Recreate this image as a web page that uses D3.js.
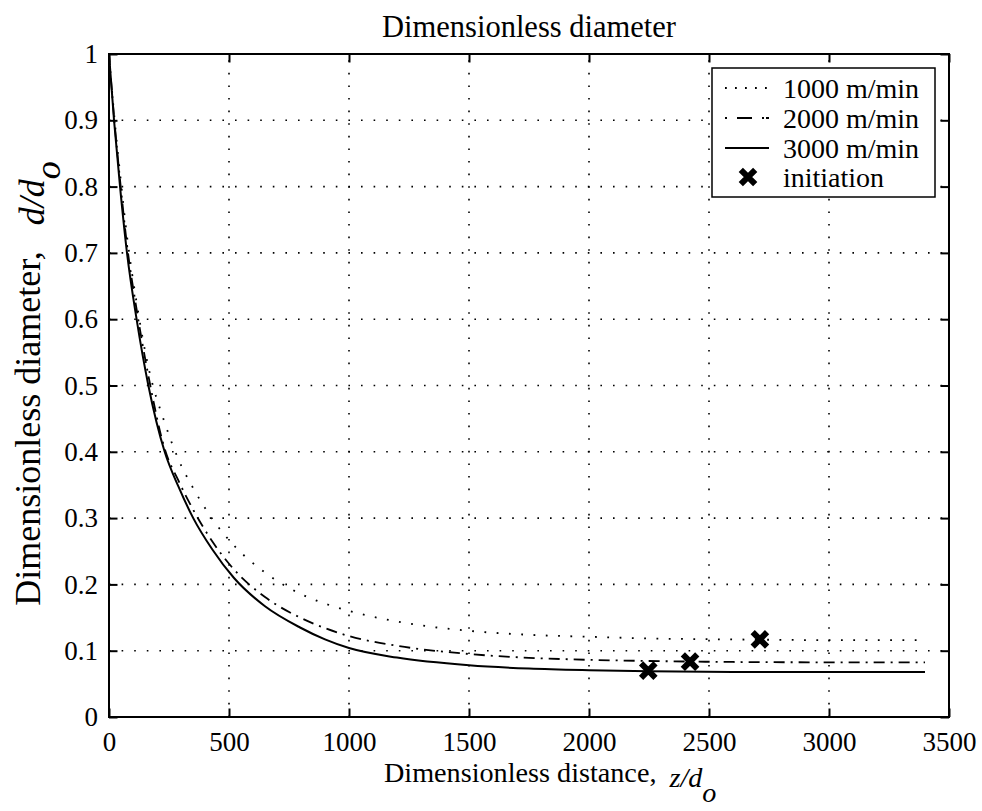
<!DOCTYPE html>
<html><head><meta charset="utf-8">
<script src="https://cdn.jsdelivr.net/npm/d3@7"></script>
<style>body{margin:0;background:#fff}svg{display:block}text{font-family:"Liberation Serif","Times New Roman",serif;fill:#000}</style>
</head><body>
<script>
// ---- data ----
const zDist = [0, 21, 46, 75, 115, 164, 232, 290, 351, 430, 520, 650, 796, 900, 1000, 1200, 1500, 1750, 2000, 2250, 2600, 3000, 3400];
const d1000 = [1.0, 0.91, 0.82, 0.725, 0.625, 0.528, 0.444, 0.388, 0.345, 0.299, 0.259, 0.218, 0.186, 0.171, 0.16, 0.144, 0.130, 0.124, 0.121, 0.1185, 0.117, 0.116, 0.116];
const d2000 = [1.0, 0.905, 0.81, 0.712, 0.615, 0.515, 0.4045, 0.356, 0.3125, 0.265, 0.2228, 0.181, 0.150, 0.134, 0.122, 0.1075, 0.095, 0.0893, 0.0862, 0.0845, 0.083, 0.0825, 0.0825];
const d3000 = [1.0, 0.9, 0.8, 0.7, 0.6, 0.5, 0.4, 0.347, 0.3, 0.253, 0.21, 0.167, 0.135, 0.117, 0.104, 0.0896, 0.078, 0.073, 0.0705, 0.069, 0.068, 0.068, 0.068];
const seriesNames = ["1000 m/min", "2000 m/min", "3000 m/min"];
const initZ = [2247, 2421, 2712];
const initD = [0.070, 0.0835, 0.117];
const xTicks = [0, 500, 1000, 1500, 2000, 2500, 3000, 3500];
const yTicks = [0, 0.1, 0.2, 0.3, 0.4, 0.5, 0.6, 0.7, 0.8, 0.9, 1];
const yTickLabels = ["0", "0.1", "0.2", "0.3", "0.4", "0.5", "0.6", "0.7", "0.8", "0.9", "1"];

const W = 982, H = 811;
const L = 109, R = 949, T = 54, B = 717;
const svg = d3.select("body").append("svg").attr("width", W).attr("height", H)
  .attr("font-family", "Liberation Serif");
const x = d3.scaleLinear().domain([0, 3500]).range([L, R]);
const y = d3.scaleLinear().domain([0, 1]).range([B, T]);

// grid
const grid = svg.append("g").attr("stroke", "#000").attr("stroke-width", 1.6).attr("stroke-dasharray", "1.6,11").attr("fill", "none");
xTicks.slice(1, -1).forEach(v => grid.append("line").attr("x1", x(v)).attr("x2", x(v)).attr("y1", B).attr("y2", T));
yTicks.slice(1, -1).forEach(v => grid.append("line").attr("x1", L).attr("x2", R).attr("y1", y(v)).attr("y2", y(v)));

// axes with inward ticks on all four sides
const tl = 8.5;
const axB = d3.axisBottom(x).tickValues(xTicks).tickSize(-tl).tickPadding(15).tickFormat(d3.format("d"));
const axT = d3.axisTop(x).tickValues(xTicks).tickSize(-tl).tickFormat("");
const axLft = d3.axisLeft(y).tickValues(yTicks).tickSize(-tl).tickPadding(11).tickFormat((d, i) => yTickLabels[i]);
const axRt = d3.axisRight(y).tickValues(yTicks).tickSize(-tl).tickFormat("");
function style(g) {
  g.attr("font-family", "Liberation Serif").attr("font-size", 27);
  g.select(".domain").remove();
  g.selectAll(".tick line").attr("stroke", "#000").attr("stroke-width", 2);
  g.selectAll(".tick text").attr("font-size", 27);
}
svg.append("g").attr("transform", `translate(0,${B})`).call(axB).call(style);
svg.append("g").attr("transform", `translate(0,${T})`).call(axT).call(style);
svg.append("g").attr("transform", `translate(${L},0)`).call(axLft).call(style);
svg.append("g").attr("transform", `translate(${R},0)`).call(axRt).call(style);
svg.append("rect").attr("x", L).attr("y", T).attr("width", R - L).attr("height", B - T)
  .attr("fill", "none").attr("stroke", "#000").attr("stroke-width", 2);

// curves
const dashes = ["1.8,10.5", "11,6,2,6", null];
const allSeries = [d1000, d2000, d3000];
const line = d3.line().x(d => x(d[0])).y(d => y(d[1])).curve(d3.curveMonotoneX);
allSeries.forEach((s, i) => {
  svg.append("path").datum(zDist.map((z, j) => [z, s[j]]))
    .attr("d", line).attr("fill", "none").attr("stroke", "#000")
    .attr("stroke-width", i === 2 ? 2 : 1.8)
    .attr("stroke-dasharray", dashes[i]);
});

// markers
const ms = 7.2;
function xMark(g, cx, cy) {
  g.append("path").attr("d", `M${cx - ms},${cy - ms}L${cx + ms},${cy + ms}M${cx - ms},${cy + ms}L${cx + ms},${cy - ms}`)
    .attr("stroke", "#000").attr("stroke-width", 6).attr("fill", "none");
}
initZ.forEach((z, i) => xMark(svg, x(z), y(initD[i])));

// legend
const lg = svg.append("g");
lg.append("rect").attr("x", 712).attr("y", 68).attr("width", 223).attr("height", 129)
  .attr("fill", "#fff").attr("stroke", "#000").attr("stroke-width", 1.5);
const rowY = [88, 118, 148, 177];
seriesNames.forEach((n, i) => {
  lg.append("line").attr("x1", 725).attr("x2", 769).attr("y1", rowY[i]).attr("y2", rowY[i])
    .attr("stroke", "#000").attr("stroke-width", i === 2 ? 2 : 1.8)
    .attr("stroke-dasharray", i === 0 ? "1.8,8.2" : (i === 1 ? "2,10,15,10,2" : null));
  lg.append("text").attr("x", 783).attr("y", rowY[i] + 9.5).attr("font-size", 28).text(n);
});
xMark(lg, 748, rowY[3]);
lg.append("text").attr("x", 783).attr("y", rowY[3] + 9.5).attr("font-size", 28).text("initiation");

// title
svg.append("text").attr("x", (L + R) / 2).attr("y", 37).attr("text-anchor", "middle").attr("font-size", 30.5).text("Dimensionless diameter");

// x label
const xl = svg.append("text").attr("x", 384).attr("y", 782).attr("font-size", 28.2);
xl.append("tspan").text("Dimensionless distance,");
xl.append("tspan").attr("font-style", "italic").attr("dx", 13).attr("dy", 5).text("z/d");
xl.append("tspan").attr("font-style", "italic").attr("dy", 15).text("o");

// y label
const yl = svg.append("text").attr("transform", `translate(40,${(T + B) / 2 - 2}) rotate(-90)`).attr("text-anchor", "middle").attr("font-size", 36);
yl.append("tspan").text("Dimensionless diameter,");
yl.append("tspan").attr("font-style", "italic").attr("dx", 26).attr("dy", 4).text("d/d");
yl.append("tspan").attr("font-style", "italic").attr("dy", 16).text("o");
</script>
</body></html>
